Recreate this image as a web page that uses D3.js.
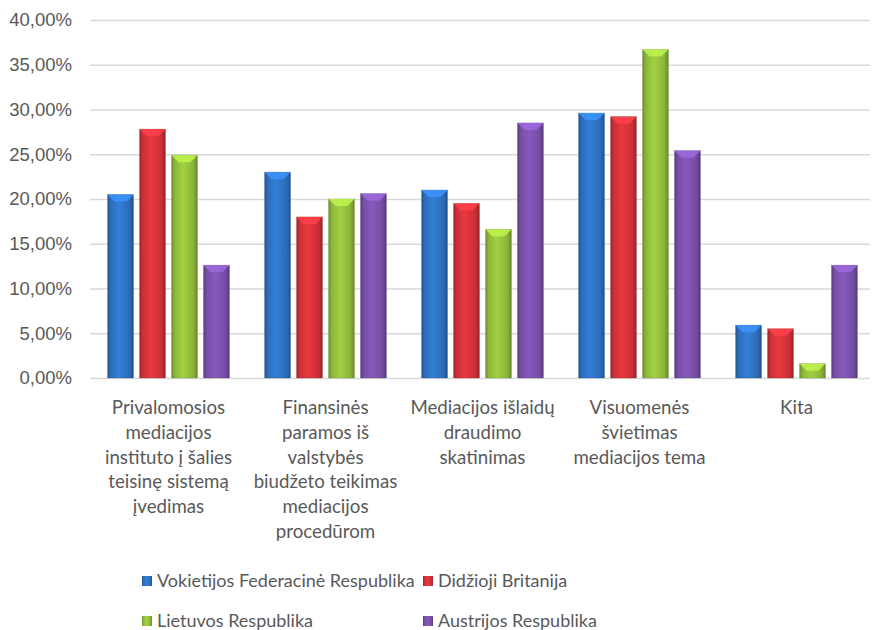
<!DOCTYPE html>
<html>
<head>
<meta charset="utf-8">
<script src="https://cdn.jsdelivr.net/npm/d3@7"></script>
<style>
  body { margin: 0; background: #fff; }
  svg { font-family: Lato, "Open Sans", sans-serif; }
  .tick text { fill: #595959; }
</style>
</head>
<body>
<svg id="chart" width="874" height="630"></svg>
<script>
const categories = [
  ["Privalomosios", "mediacijos", "instituto į šalies", "teisinę sistemą", "įvedimas"],
  ["Finansinės", "paramos iš", "valstybės", "biudžeto teikimas", "mediacijos", "procedūrom"],
  ["Mediacijos išlaidų", "draudimo", "skatinimas"],
  ["Visuomenės", "švietimas", "mediacijos tema"],
  ["Kita"]
];
const seriesNames = ["Vokietijos Federacinė Respublika", "Didžioji Britanija", "Lietuvos Respublika", "Austrijos Respublika"];
const germany   = [20.5, 23.0, 21.0, 29.6, 5.9];
const britain   = [27.8, 18.0, 19.5, 29.2, 5.5];
const lithuania = [24.9, 20.0, 16.6, 36.7, 1.6];
const austria   = [12.6, 20.6, 28.5, 25.4, 12.6];
const yTicks = [0, 5, 10, 15, 20, 25, 30, 35, 40];
const colors = ["#2f73c4", "#d6333a", "#93c03c", "#7b52ad"];

const series = [germany, britain, lithuania, austria];
const svg = d3.select("#chart");
const left = 90;

const x = d3.scaleBand().domain(d3.range(categories.length))
    .range([left, 875]).paddingInner(0).paddingOuter(0);
const x1 = d3.scaleBand().domain(d3.range(series.length))
    .range([0, x.bandwidth()]).paddingInner(0.19).paddingOuter(0.55);
const y = d3.scaleLinear().domain([0, 40]).range([378, 20]);

// gradients for a rounded bar look
const defs = svg.append("defs");
colors.forEach((c, i) => {
  const g = defs.append("linearGradient").attr("id", "g" + i)
      .attr("x1", 0).attr("x2", 1).attr("y1", 0).attr("y2", 0);
  const base = d3.color(c);
  g.append("stop").attr("offset", "0%").attr("stop-color", base.darker(0.9));
  g.append("stop").attr("offset", "12%").attr("stop-color", base.darker(0.15));
  g.append("stop").attr("offset", "45%").attr("stop-color", base.brighter(0.25));
  g.append("stop").attr("offset", "85%").attr("stop-color", base.darker(0.2));
  g.append("stop").attr("offset", "100%").attr("stop-color", base.darker(1));
});

// gridlines + y labels
svg.append("g")
  .attr("transform", `translate(${left},0)`)
  .call(d3.axisLeft(y).tickValues(yTicks).tickSize(-(870 - left))
        .tickFormat(d => d.toFixed(2).replace(".", ",") + "%").tickPadding(18))
  .call(g => g.select(".domain").remove())
  .call(g => g.selectAll(".tick line").attr("stroke", "#d9d9d9").attr("stroke-width", 1.5))
  .call(g => g.selectAll(".tick text").attr("font-size", 18.5));

// bars
const groups = svg.append("g").selectAll("g")
  .data(categories).join("g")
  .attr("transform", (d, i) => `translate(${x(i)},0)`);

groups.each(function(cat, ci) {
  const g = d3.select(this);
  series.forEach((s, si) => {
    const bx = x1(si), bw = x1.bandwidth(), top = y(s[ci]), h = y(0) - top;
    g.append("rect").attr("x", bx).attr("y", top).attr("width", bw).attr("height", h)
      .attr("fill", `url(#g${si})`)
      .attr("stroke", d3.color(colors[si]).darker(1)).attr("stroke-opacity", 0.35).attr("stroke-width", 0.8);
    const bev = Math.min(7, h / 2);
    g.append("path")
      .attr("d", `M${bx},${top}L${bx + bw},${top}L${bx + bw - bev},${top + bev}L${bx + bev},${top + bev}Z`)
      .attr("fill", d3.color(colors[si]).brighter(0.7)).attr("opacity", 0.85);
  });
});

// category labels
const labels = svg.append("g").selectAll("text")
  .data(categories).join("text")
  .attr("x", (d, i) => x(i) + x.bandwidth() / 2)
  .attr("y", 414)
  .attr("text-anchor", "middle")
  .attr("fill", "#595959")
  .attr("font-size", 18.7);
labels.selectAll("tspan").data(d => d).join("tspan")
  .attr("x", function() { return this.parentNode.getAttribute("x"); })
  .attr("dy", (d, i) => i === 0 ? 0 : 24.8)
  .text(d => d);

// legend
const legendPos = [[142, 587], [423, 587], [142, 627], [423, 627]];
const leg = svg.append("g").selectAll("g")
  .data(seriesNames).join("g")
  .attr("transform", (d, i) => `translate(${legendPos[i][0]},${legendPos[i][1]})`);
leg.append("rect").attr("x", 0).attr("y", -11).attr("width", 10).attr("height", 10)
  .attr("fill", (d, i) => `url(#g${i})`);
leg.append("text").attr("x", 15).attr("y", 0)
  .attr("fill", "#595959").attr("font-size", 18).text(d => d);
</script>
</body>
</html>
